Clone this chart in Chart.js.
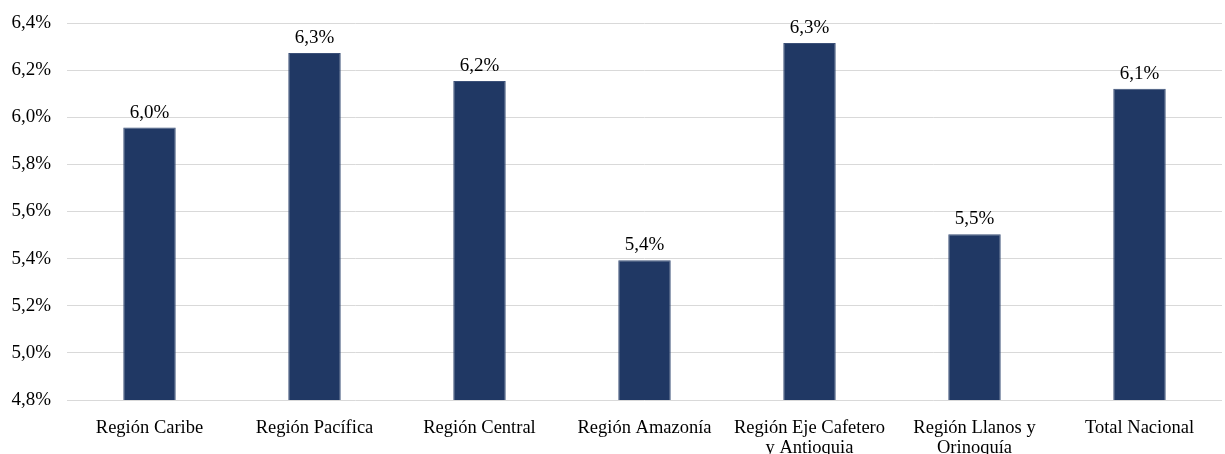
<!DOCTYPE html>
<html>
<head>
<meta charset="utf-8">
<script src="https://cdn.jsdelivr.net/npm/chart.js@4/dist/chart.umd.min.js"></script>
<style>
  html, body { margin: 0; padding: 0; background: #fff; }
  #wrap { width: 1225px; height: 454px; }
</style>
</head>
<body>
<div id="wrap"><canvas id="grafico"></canvas></div>
<script>
// datos
const regiones = [
  'Región Caribe',
  'Región Pacífica',
  'Región Central',
  'Región Amazonía',
  ['Región Eje Cafetero', 'y Antioquia'],
  ['Región Llanos y', 'Orinoquía'],
  'Total Nacional'
];
const valores = [5.956, 6.273, 6.154, 5.393, 6.315, 5.503, 6.121];
const ticksY = [4.8, 5.0, 5.2, 5.4, 5.6, 5.8, 6.0, 6.2, 6.4];

const fmt = v => v.toFixed(1).replace('.', ',') + '%';
const serif = '"Liberation Serif", "Times New Roman", serif';

// etiquetas encima de las barras
const etiquetas = {
  id: 'etiquetas',
  afterDatasetsDraw(chart) {
    const ctx = chart.ctx;
    const meta = chart.getDatasetMeta(0);
    ctx.save();
    ctx.font = '19px ' + serif;
    ctx.fillStyle = '#000';
    ctx.textAlign = 'center';
    ctx.textBaseline = 'alphabetic';
    meta.data.forEach((bar, i) => {
      ctx.fillText(fmt(valores[i]), bar.x, bar.y - 10);
    });
    ctx.restore();
  }
};

new Chart(document.getElementById('grafico'), {
  type: 'bar',
  data: {
    labels: regiones,
    datasets: [{
      data: valores,
      backgroundColor: '#203864',
      borderColor: '#3b5078',
      borderWidth: 1,
      categoryPercentage: 1,
      barPercentage: 0.318
    }]
  },
  options: {
    responsive: true,
    maintainAspectRatio: false,
    animation: false,
    layout: { padding: { top: 23, right: 3, left: 0, bottom: 0 } },
    plugins: { legend: { display: false }, tooltip: { enabled: false } },
    scales: {
      x: {
        grid: { display: false },
        border: { display: false },
        ticks: {
          color: '#000',
          padding: 10,
          maxRotation: 0,
          autoSkip: false,
          font: { family: serif, size: 18.5, lineHeight: 1.1 }
        },
        afterFit(scale) { scale.height = 54; }
      },
      y: {
        min: 4.8,
        max: 6.4,
        afterBuildTicks(scale) { scale.ticks = ticksY.map(v => ({ value: v })); },
        grid: { color: '#d9d9d9', lineWidth: 1, drawTicks: false },
        border: { display: false },
        ticks: {
          color: '#000',
          padding: 16,
          font: { family: serif, size: 19 },
          callback: v => v.toFixed(1).replace('.', ',') + '%'
        },
        afterFit(scale) {
          scale.width = 67;
          scale.paddingTop = 0;
          scale.paddingBottom = 0;
        }
      }
    }
  },
  plugins: [etiquetas]
});
</script>
</body>
</html>
